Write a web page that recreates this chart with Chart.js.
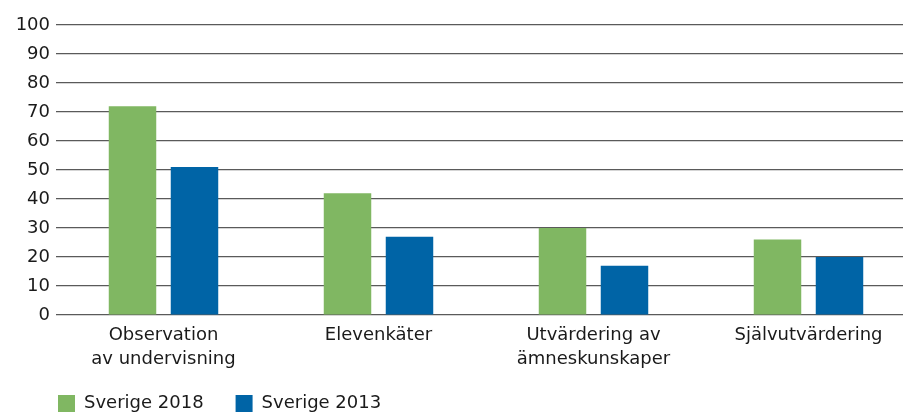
<!DOCTYPE html>
<html lang="sv">
<head>
<meta charset="utf-8">
<title>Sverige 2018 / 2013</title>
<script src="https://cdn.jsdelivr.net/npm/chart.js@4/dist/chart.umd.min.js"></script>
<style>
    html, body { margin: 0; padding: 0; background: #fff; overflow: hidden; }
    #wrap { position: relative; width: 916px; height: 412px; }
</style>
</head>
<body>
<div id="wrap"><canvas id="chart"></canvas></div>
<script>
// Data
const categories = [
    ['Observation', 'av undervisning'],
    'Elevenkäter',
    ['Utvärdering av', 'ämneskunskaper'],
    'Självutvärdering'
];
const sverige2018 = [72, 42, 30, 26];
const sverige2013 = [51, 27, 17, 20];
const seriesLabels = ['Sverige 2018', 'Sverige 2013'];
const yMin = 0;
const yMax = 100;
const yStep = 10;

const green = '#80b762';
const blue = '#0064a6';
const fontFamily = '"DejaVu Sans", "Liberation Sans", sans-serif';

// put the legend where the reference has it (left aligned under the y labels)
const legendPlacer = {
    id: 'legendPlacer',
    afterLayout(chart) {
        const pad = chart.options.plugins.legend.labels.padding;
        chart.legend.left = 58 - pad;
        chart.legend.top = 394.5 - pad;
    }
};

const ctx = document.getElementById('chart');
new Chart(ctx, {
    type: 'bar',
    data: {
        labels: categories,
        datasets: [
            {
                label: seriesLabels[0],
                data: sverige2018,
                backgroundColor: green,
                categoryPercentage: 0.5767,
                barPercentage: 0.766
            },
            {
                label: seriesLabels[1],
                data: sverige2013,
                backgroundColor: blue,
                categoryPercentage: 0.5767,
                barPercentage: 0.766
            }
        ]
    },
    options: {
        responsive: true,
        maintainAspectRatio: false,
        animation: false,
        layout: {
            padding: { top: 25, right: 0, bottom: 0, left: 0 }
        },
        plugins: {
            legend: {
                position: 'bottom',
                align: 'start',
                maxHeight: 38,
                labels: {
                    boxWidth: 17,
                    boxHeight: 17,
                    padding: 32,
                    color: '#1a1a1a',
                    font: { family: fontFamily, size: 18 }
                }
            },
            tooltip: { enabled: false }
        },
        scales: {
            x: {
                grid: { display: false, drawTicks: false },
                border: { display: false },
                ticks: {
                    autoSkip: false,
                    maxRotation: 0,
                    padding: 8,
                    color: '#1a1a1a',
                    font: { family: fontFamily, size: 18, lineHeight: 1.35 }
                },
                afterFit(scale) { scale.height = 59; }
            },
            y: {
                min: yMin,
                max: yMax,
                grid: { color: '#5a5a5a', lineWidth: 1.2, drawTicks: false },
                border: { display: false },
                ticks: {
                    stepSize: yStep,
                    padding: 6,
                    color: '#1a1a1a',
                    font: { family: fontFamily, size: 18 }
                },
                afterFit(scale) { scale.width = 56; }
            }
        }
    },
    plugins: [legendPlacer]
});
</script>
</body>
</html>
